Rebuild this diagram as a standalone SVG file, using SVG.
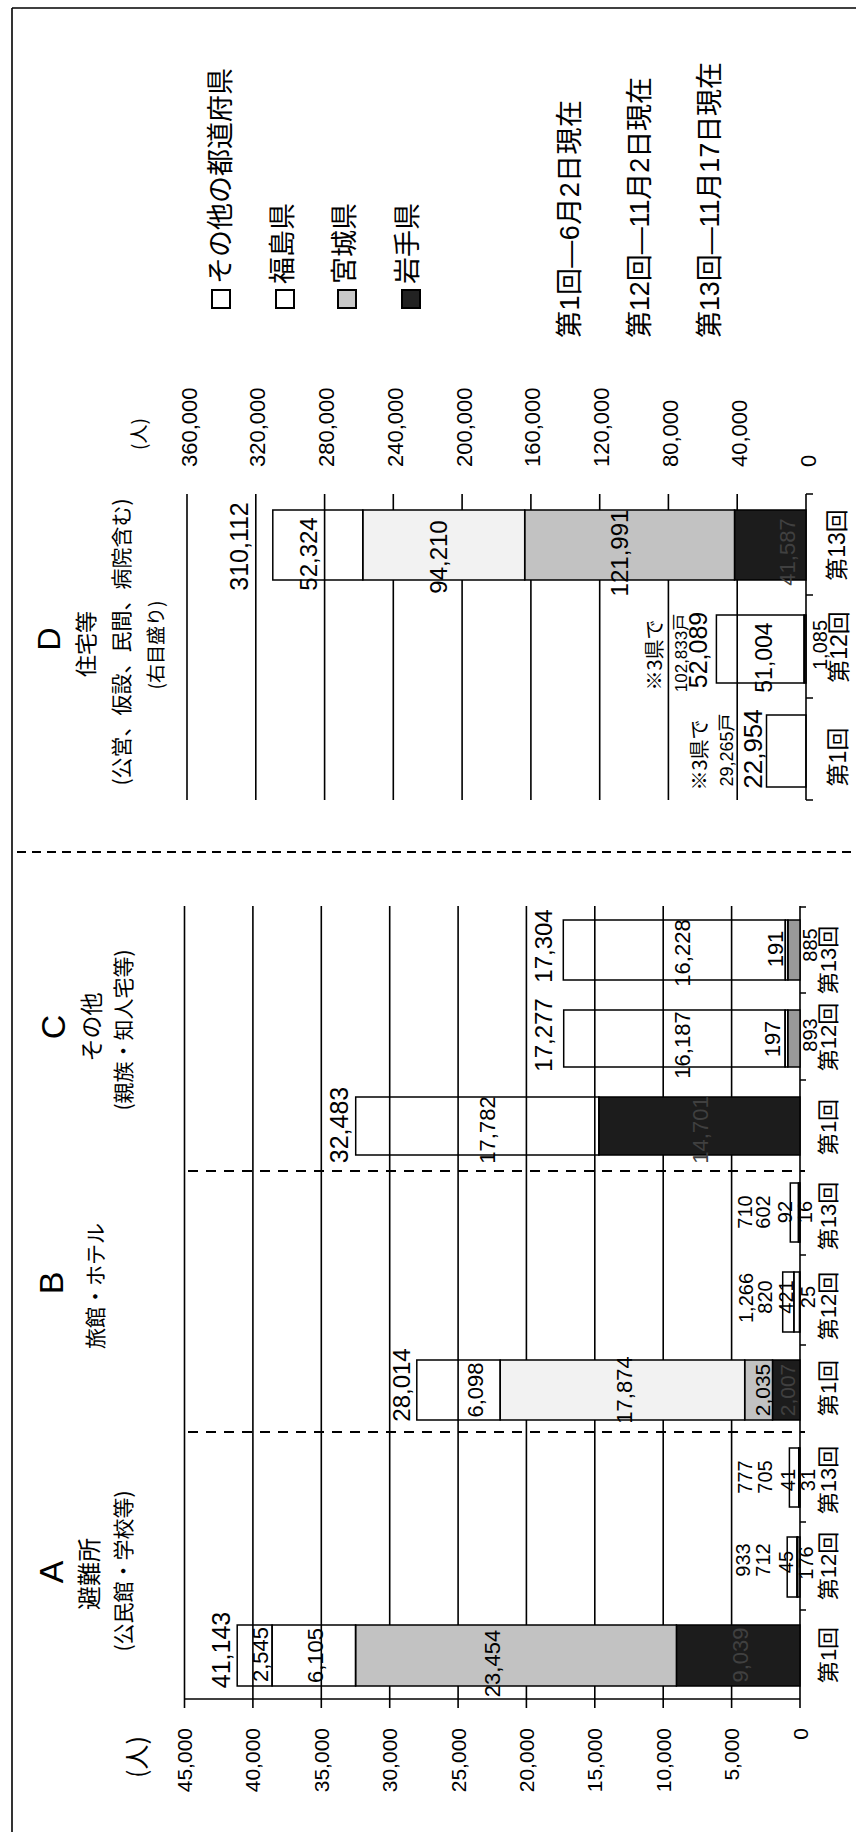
<svg xmlns="http://www.w3.org/2000/svg" width="856" height="1832" viewBox="0 0 856 1832">
<style>
.ln{stroke:#000;stroke-width:1.6;fill:none}
.dash{stroke:#000;stroke-width:2;stroke-dasharray:10 8;fill:none}
.dash2{stroke:#000;stroke-width:2;stroke-dasharray:9 6;fill:none}
.bar rect{stroke:#000;stroke-width:1.5}
.w{fill:none}
.dk{fill:#1c1c1c}
.md{fill:#c2c2c2}
.lt{fill:#f2f2f2}
.gy{fill:#999}
text{font-family:"Liberation Sans","Noto Sans CJK JP",sans-serif;fill:#000}
.jp{font-family:"Noto Sans CJK JP","Noto Sans CJK SC",sans-serif}
.m{text-anchor:middle}
.e{text-anchor:end}
.hid{fill:#404040}
</style>
<rect width="856" height="1832" fill="#fff"/>
<g transform="translate(0,1832) rotate(-90)">
  <g id="frame" class="ln">
    <line x1="0" y1="12" x2="1824" y2="12"/>
    <line x1="1824" y1="12" x2="1824" y2="856"/>
  </g>
  <g id="grid-left" class="ln">
    <line x1="124" y1="184.5" x2="926" y2="184.5"/>
    <line x1="124" y1="252.9" x2="926" y2="252.9"/>
    <line x1="124" y1="321.3" x2="926" y2="321.3"/>
    <line x1="124" y1="389.7" x2="926" y2="389.7"/>
    <line x1="124" y1="458.1" x2="926" y2="458.1"/>
    <line x1="124" y1="526.4" x2="926" y2="526.4"/>
    <line x1="124" y1="594.8" x2="926" y2="594.8"/>
    <line x1="124" y1="663.2" x2="926" y2="663.2"/>
    <line x1="124" y1="731.6" x2="926" y2="731.6"/>
    <line x1="124" y1="800" x2="926" y2="800"/>
    <line x1="133" y1="184.5" x2="133" y2="800"/>
    <path d="M222 800v6M310 800v6M487 800v6M577 800v6M752 800v6M839 800v6M925 800v6"/>
  </g>
  <g id="grid-right" class="ln">
    <line x1="1032" y1="187" x2="1338" y2="187"/>
    <line x1="1032" y1="255.8" x2="1338" y2="255.8"/>
    <line x1="1032" y1="324.6" x2="1338" y2="324.6"/>
    <line x1="1032" y1="393.3" x2="1338" y2="393.3"/>
    <line x1="1032" y1="462.1" x2="1338" y2="462.1"/>
    <line x1="1032" y1="530.9" x2="1338" y2="530.9"/>
    <line x1="1032" y1="599.7" x2="1338" y2="599.7"/>
    <line x1="1032" y1="668.4" x2="1338" y2="668.4"/>
    <line x1="1032" y1="737.2" x2="1338" y2="737.2"/>
    <line x1="1032" y1="806" x2="1338" y2="806"/>
    <path d="M1032 806v7M1134 806v7M1237 806v7M1338 806v7"/>
  </g>
  <g id="dividers">
    <line class="dash" x1="400" y1="188" x2="400" y2="805"/>
    <line class="dash" x1="661" y1="188" x2="661" y2="805"/>
    <line class="dash2" x1="980" y1="17" x2="980" y2="856"/>
  </g>

  <g id="bar-A1" class="bar">
    <rect class="dk" x="146" y="676.4" width="61" height="123.6"/>
    <rect class="md" x="146" y="355.6" width="61" height="320.8"/>
    <rect class="w" x="146" y="272.1" width="61" height="83.5"/>
    <rect class="w" x="146" y="237.2" width="61" height="34.9"/>
  </g>
  <g id="bar-A12" class="bar">
    <rect class="w" x="235" y="797.6" width="60" height="2.4"/>
    <rect class="w" x="235" y="797" width="60" height="0.6"/>
    <rect class="w" x="235" y="787.2" width="60" height="9.8"/>
  </g>
  <g id="bar-A13" class="bar">
    <rect class="w" x="325" y="799.4" width="59" height="0.6"/>
    <rect class="w" x="325" y="798.8" width="59" height="0.6"/>
    <rect class="w" x="325" y="789.4" width="59" height="9.4"/>
  </g>
  <g id="bar-B1" class="bar">
    <rect class="dk" x="412" y="772.5" width="60" height="27.5"/>
    <rect class="md" x="412" y="744.7" width="60" height="27.8"/>
    <rect class="lt" x="412" y="500.2" width="60" height="244.5"/>
    <rect class="w" x="412" y="416.8" width="60" height="83.4"/>
  </g>
  <g id="bar-B12" class="bar">
    <rect class="w" x="500" y="799.6" width="60" height="0.4"/>
    <rect class="w" x="500" y="793.9" width="60" height="5.7"/>
    <rect class="w" x="500" y="782.7" width="60" height="11.2"/>
  </g>
  <g id="bar-B13" class="bar">
    <rect class="w" x="590" y="799.6" width="59" height="0.4"/>
    <rect class="w" x="590" y="798.5" width="59" height="1.1"/>
    <rect class="w" x="590" y="790.3" width="59" height="8.2"/>
  </g>
  <g id="bar-C1" class="bar">
    <rect class="dk" x="677" y="598.9" width="58" height="201.1"/>
    <rect class="w" x="677" y="355.7" width="58" height="243.2"/>
  </g>
  <g id="bar-C12" class="bar">
    <rect class="gy" x="765" y="787.8" width="57" height="12.2"/>
    <rect class="w" x="765" y="785.1" width="57" height="2.7"/>
    <rect class="w" x="765" y="563.7" width="57" height="221.4"/>
  </g>
  <g id="bar-C13" class="bar">
    <rect class="gy" x="852" y="787.9" width="60" height="12.1"/>
    <rect class="w" x="852" y="785.3" width="60" height="2.6"/>
    <rect class="w" x="852" y="563.3" width="60" height="222"/>
  </g>
  <g id="bar-D1" class="bar">
    <rect class="w" x="1045" y="766.5" width="72" height="39.5"/>
  </g>
  <g id="bar-D12" class="bar">
    <rect class="dk" x="1149" y="804.1" width="68" height="1.9"/>
    <rect class="w" x="1149" y="716.4" width="68" height="87.7"/>
  </g>
  <g id="bar-D13" class="bar">
    <rect class="dk" x="1252" y="734.5" width="70" height="71.5"/>
    <rect class="md" x="1252" y="524.7" width="70" height="209.8"/>
    <rect class="lt" x="1252" y="362.8" width="70" height="161.9"/>
    <rect class="w" x="1252" y="272.8" width="70" height="90"/>
  </g>

  <g id="axis-left-labels" font-size="21" class="e">
    <text x="104" y="192">45,000</text>
    <text x="104" y="260.4">40,000</text>
    <text x="104" y="328.8">35,000</text>
    <text x="104" y="397.2">30,000</text>
    <text x="104" y="465.6">25,000</text>
    <text x="104" y="534">20,000</text>
    <text x="104" y="602.3">15,000</text>
    <text x="104" y="670.7">10,000</text>
    <text x="104" y="739.1">5,000</text>
    <text x="104" y="807.5">0</text>
  </g>
  <text class="jp m" x="75" y="146" font-size="25">(人)</text>

  <g id="axis-right-labels" font-size="22">
    <text x="1365" y="196.5">360,000</text>
    <text x="1365" y="265.3">320,000</text>
    <text x="1365" y="334.1">280,000</text>
    <text x="1365" y="402.8">240,000</text>
    <text x="1365" y="471.6">200,000</text>
    <text x="1365" y="540.4">160,000</text>
    <text x="1365" y="609.2">120,000</text>
    <text x="1365" y="677.9">80,000</text>
    <text x="1365" y="746.7">40,000</text>
    <text x="1365" y="815.5">0</text>
  </g>
  <text class="jp" x="1382" y="146" font-size="19">(人)</text>

  <g id="header-A" class="m">
    <text x="260" y="63" font-size="34">A</text>
    <text class="jp m" x="258" y="98" font-size="24">避難所</text>
    <text class="jp m" x="261" y="131" font-size="21">(公民館・学校等)</text>
  </g>
  <g id="header-B" class="m">
    <text x="549" y="63" font-size="34">B</text>
    <text class="jp m" x="546" y="103" font-size="21">旅館・ホテル</text>
  </g>
  <g id="header-C" class="m">
    <text x="805" y="65" font-size="34">C</text>
    <text class="jp m" x="805" y="100" font-size="23">その他</text>
    <text class="jp m" x="802" y="131" font-size="21">(親族・知人宅等)</text>
  </g>
  <g id="header-D" class="m">
    <text x="1193" y="60" font-size="32">D</text>
    <text class="jp m" x="1188" y="94" font-size="22">住宅等</text>
    <text class="jp m" x="1190" y="129" font-size="21">(公営、仮設、民間、病院含む)</text>
    <text class="jp m" x="1187" y="163" font-size="19">(右目盛り)</text>
  </g>

  <g id="labels-A" class="m">
    <text x="182" y="230" font-size="25">41,143</text>
    <text x="177.5" y="268" font-size="22">2,545</text>
    <text x="176.5" y="323" font-size="22">6,105</text>
    <text x="168.5" y="500" font-size="22">23,454</text>
    <text class="hid m" x="177" y="748" font-size="22">9,039</text>
    <g font-size="20">
      <text x="272" y="750">933</text>
      <text x="272" y="770">712</text>
      <text x="270" y="793">45</text>
      <text x="269" y="813">176</text>
      <text x="355" y="752">777</text>
      <text x="355" y="772">705</text>
      <text x="352" y="795">41</text>
      <text x="352" y="815">31</text>
    </g>
  </g>
  <g id="labels-B" class="m">
    <text x="447" y="410" font-size="24">28,014</text>
    <text x="442" y="483" font-size="22">6,098</text>
    <text x="442" y="632" font-size="22">17,874</text>
    <text x="442" y="770" font-size="21">2,035</text>
    <text class="hid m" x="442" y="795" font-size="21">2,007</text>
    <g font-size="20">
      <text x="534" y="753">1,266</text>
      <text x="535" y="772">820</text>
      <text x="535" y="793">421</text>
      <text x="535" y="815">25</text>
      <text x="620" y="752">710</text>
      <text x="620" y="770">602</text>
      <text x="620" y="792">92</text>
      <text x="620" y="812">16</text>
    </g>
  </g>
  <g id="labels-C" class="m">
    <text x="707" y="348" font-size="25">32,483</text>
    <text x="702" y="495" font-size="22">17,782</text>
    <text class="hid m" x="702" y="708" font-size="22">14,701</text>
    <text x="797" y="552" font-size="24">17,277</text>
    <text x="787" y="690" font-size="22">16,187</text>
    <text x="793" y="780" font-size="22">197</text>
    <text x="797" y="817" font-size="20">893</text>
    <text x="886" y="552" font-size="24">17,304</text>
    <text x="879" y="690" font-size="22">16,228</text>
    <text x="883" y="783" font-size="22">191</text>
    <text x="887" y="817" font-size="20">885</text>
  </g>
  <g id="labels-D" class="m">
    <text x="1285.5" y="248" font-size="25">310,112</text>
    <text x="1278" y="317" font-size="24">52,324</text>
    <text x="1275" y="447" font-size="24">94,210</text>
    <text x="1279" y="628" font-size="24">121,991</text>
    <text class="hid m" x="1280" y="795" font-size="22">41,587</text>
    <text class="jp m" x="1177" y="662" font-size="20">※3県で</text>
    <text class="m" x="1179" y="687" font-size="17">102,833戸</text>
    <text x="1182" y="707" font-size="25">52,089</text>
    <text x="1174.5" y="772" font-size="23">51,004</text>
    <text x="1187" y="827" font-size="20">1,085</text>
    <text class="jp m" x="1077" y="707" font-size="20">※3県で</text>
    <text class="m" x="1082" y="733" font-size="18">29,265戸</text>
    <text x="1083" y="762" font-size="26">22,954</text>
  </g>
  <g id="categories" class="jp m" font-size="22">
    <text x="177" y="836">第1回</text>
    <text x="266" y="836">第12回</text>
    <text x="352" y="836">第13回</text>
    <text x="444" y="836">第1回</text>
    <text x="526" y="836">第12回</text>
    <text x="616" y="836">第13回</text>
    <text x="705" y="836">第1回</text>
    <text x="795" y="836">第12回</text>
    <text x="872" y="836">第13回</text>
    <text x="1075" y="846" font-size="23">第1回</text>
    <text x="1185" y="847" font-size="23">第12回</text>
    <text x="1287" y="845" font-size="23">第13回</text>
  </g>
  <g id="legend">
    <rect x="1524" y="212" width="18" height="18" fill="#fff" stroke="#000" stroke-width="2"/>
    <rect x="1524" y="276" width="18" height="18" fill="#fff" stroke="#000" stroke-width="2"/>
    <rect x="1524" y="338" width="18" height="18" fill="#c8c8c8" stroke="#000" stroke-width="2"/>
    <rect x="1524" y="402" width="18" height="18" fill="#222" stroke="#000" stroke-width="2"/>
    <g class="jp" font-size="27">
      <text x="1548" y="230">その他の都道府県</text>
      <text x="1548" y="292">福島県</text>
      <text x="1548" y="354">宮城県</text>
      <text x="1548" y="417">岩手県</text>
    </g>
  </g>
  <g id="dates" class="jp" font-size="27">
    <text x="1494" y="579" textLength="238">第1回—6月2日現在</text>
    <text x="1494" y="649" textLength="261">第12回—11月2日現在</text>
    <text x="1494" y="719" textLength="276">第13回—11月17日現在</text>
  </g>
</g>
</svg>
